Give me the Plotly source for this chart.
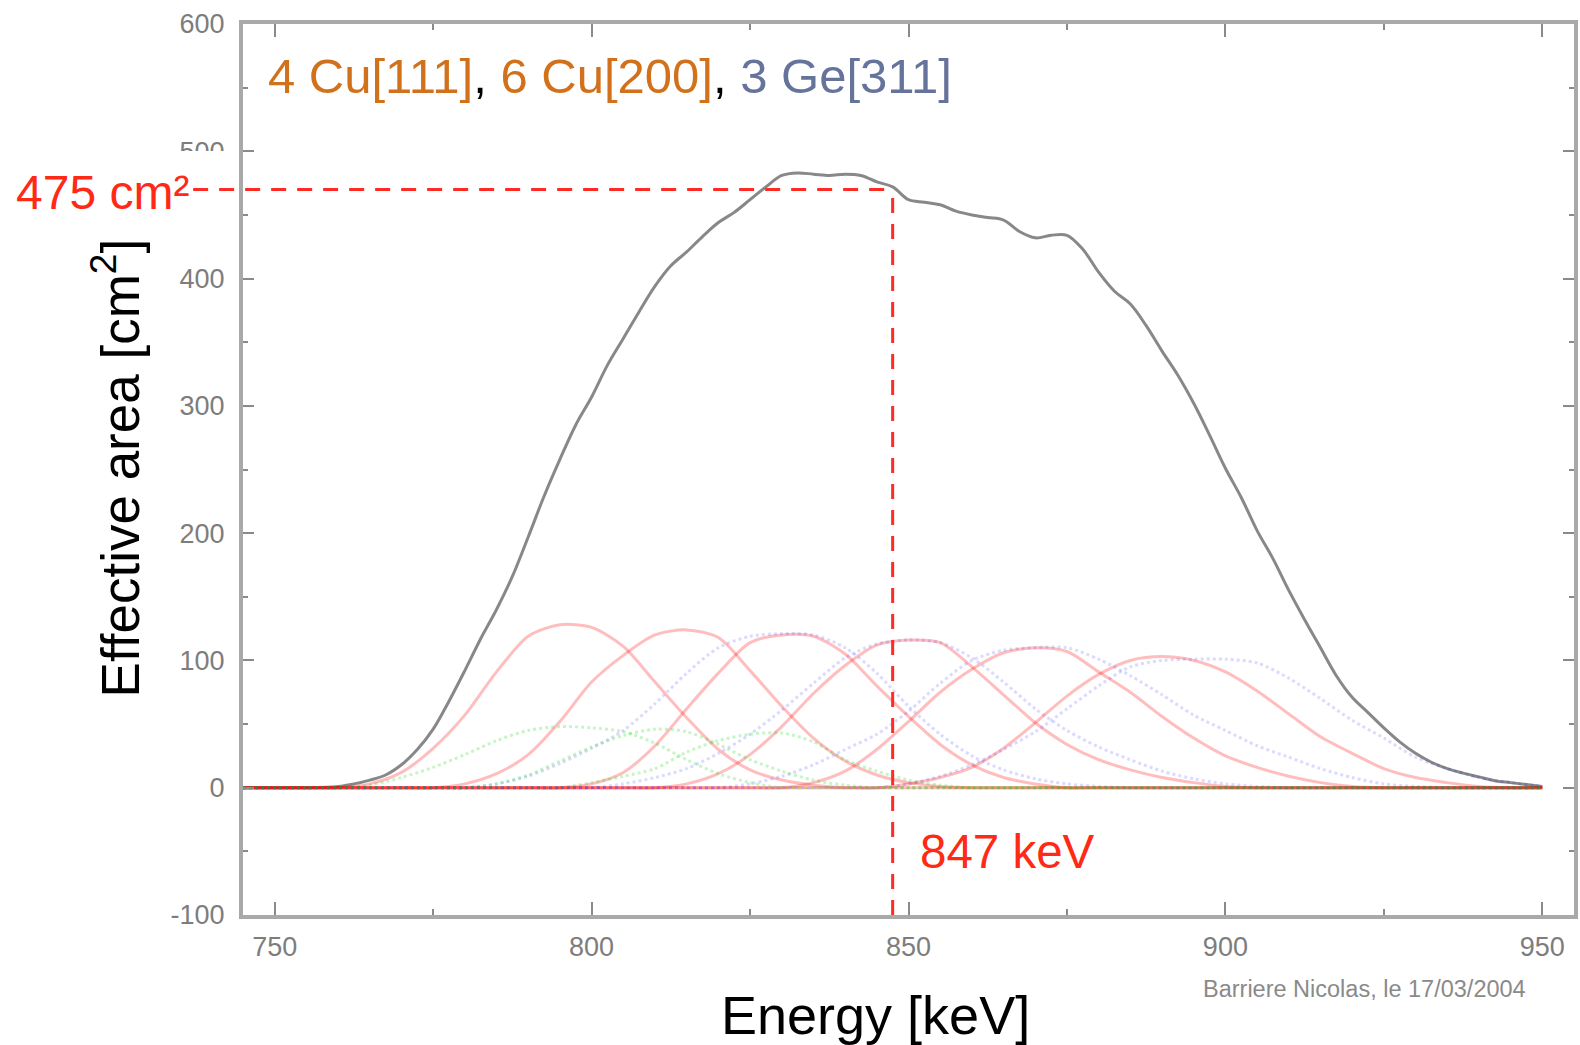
import plotly.graph_objects as go

# ---------------- data ----------------
ENERGY = [745, 750, 755, 760, 765, 770, 775, 780, 785, 790, 795, 800, 805, 810,
          815, 820, 825, 830, 835, 840, 845, 850, 855, 860, 865, 870, 875, 880,
          885, 890, 895, 900, 905, 910, 915, 920, 925, 930, 935, 940, 945, 950]

# six Cu rings drawn in red
RED_1 = [0, 0, 0, 0, 3, 12, 31, 57, 91, 119, 128, 126, 111, 83, 55, 30, 14, 6, 2, 0,
         0, 0, 0, 0, 0, 0, 0, 0, 0, 0, 0, 0, 0, 0, 0, 0, 0, 0, 0, 0, 0, 0]
RED_2 = [0, 0, 0, 0, 0, 0, 0, 3, 11, 26, 52, 83, 104, 120, 124, 118, 92, 64, 39, 21,
         10, 4, 1, 0, 0, 0, 0, 0, 0, 0, 0, 0, 0, 0, 0, 0, 0, 0, 0, 0, 0, 0]
RED_3 = [0, 0, 0, 0, 0, 0, 0, 0, 0, 0, 0, 3, 12, 33, 62, 90, 114, 120, 119, 105,
         80, 56, 34, 18, 8, 3, 0, 0, 0, 0, 0, 0, 0, 0, 0, 0, 0, 0, 0, 0, 0, 0]
RED_4 = [0, 0, 0, 0, 0, 0, 0, 0, 0, 0, 0, 0, 0, 0, 3, 11, 26, 48, 74, 96,
         112, 116, 114, 95, 73, 51, 34, 22, 14, 8, 4, 1, 0, 0, 0, 0, 0, 0, 0, 0, 0, 0]
RED_5 = [0, 0, 0, 0, 0, 0, 0, 0, 0, 0, 0, 0, 0, 0, 0, 0, 0, 0, 4, 13,
         30, 52, 75, 93, 106, 110, 107, 91, 75, 56, 39, 25, 16, 9, 4, 1, 0, 0, 0, 0, 0, 0]
RED_6 = [0, 0, 0, 0, 0, 0, 0, 0, 0, 0, 0, 0, 0, 0, 0, 0, 0, 0, 0, 0,
         0, 3, 8, 16, 31, 51, 72, 89, 100, 103, 100, 91, 76, 58, 40, 27, 15, 8, 4, 1, 0, 0]

# four rings drawn as blue dotted lines
BLUE_1 = [0, 0, 0, 0, 0, 0, 0, 0, 3, 9, 19, 31, 45, 66, 90, 110, 119, 121, 120, 110,
          90, 64, 42, 25, 14, 7, 3, 1, 0, 0, 0, 0, 0, 0, 0, 0, 0, 0, 0, 0, 0, 0]
BLUE_2 = [0, 0, 0, 0, 0, 0, 0, 0, 0, 0, 0, 0, 3, 8, 15, 27, 42, 61, 82, 102,
          113, 116, 114, 102, 83, 62, 45, 32, 22, 13, 7, 3, 1, 0, 0, 0, 0, 0, 0, 0, 0, 0]
BLUE_3 = [0, 0, 0, 0, 0, 0, 0, 0, 0, 0, 0, 0, 0, 0, 0, 0, 3, 9, 18, 30,
          42, 60, 82, 100, 108, 110, 110, 101, 88, 73, 57, 45, 33, 24, 15, 8, 3, 1, 0, 0, 0, 0]
BLUE_4 = [0, 0, 0, 0, 0, 0, 0, 0, 0, 0, 0, 0, 0, 0, 0, 0, 0, 0, 0, 0,
          0, 3, 9, 18, 30, 44, 62, 80, 95, 100, 101, 101, 98, 86, 70, 53, 39, 24, 15, 8, 4, 1]

# three rings drawn as green dotted lines
GREEN_1 = [0, 0, 0, 0, 2, 8, 16, 26, 37, 45, 48, 47, 44, 35, 22, 11, 4, 0, 0, 0,
           0, 0, 0, 0, 0, 0, 0, 0, 0, 0, 0, 0, 0, 0, 0, 0, 0, 0, 0, 0, 0, 0]
GREEN_2 = [0, 0, 0, 0, 0, 0, 0, 0, 3, 10, 21, 32, 41, 46, 44, 34, 22, 13, 6, 2,
           0, 0, 0, 0, 0, 0, 0, 0, 0, 0, 0, 0, 0, 0, 0, 0, 0, 0, 0, 0, 0, 0]
GREEN_3 = [0, 0, 0, 0, 0, 0, 0, 0, 0, 0, 0, 4, 9, 15, 28, 37, 42, 43, 36, 22,
           13, 6, 2, 0, 0, 0, 0, 0, 0, 0, 0, 0, 0, 0, 0, 0, 0, 0, 0, 0, 0, 0]

# total effective area (black curve), read every 2.5 keV
TOTAL_E = [745, 750, 755, 760, 762.5, 765, 767.5, 770, 772.5, 775, 777.5, 780, 782.5,
           785, 787.5, 790, 792.5, 795, 797.5, 800, 802.5, 805, 807.5, 810, 812.5, 815,
           817.5, 820, 822.5, 825, 827.5, 830, 832.5, 835, 837.5, 840, 842.5, 845, 847.5,
           850, 852.5, 855, 857.5, 860, 862.5, 865, 867.5, 870, 872.5, 875, 877.5, 880,
           882.5, 885, 887.5, 890, 892.5, 895, 897.5, 900, 902.5, 905, 907.5, 910, 912.5,
           915, 917.5, 920, 922.5, 925, 927.5, 930, 932.5, 935, 937.5, 940, 942.5, 945,
           947.5, 950]
TOTAL_A = [0, 0, 0, 1, 3, 6, 10, 18, 30, 46, 68, 92, 117,
           140, 166, 197, 229, 258, 285, 307, 332, 353, 374, 394, 410, 421,
           433, 444, 452, 462, 472, 481, 483, 482, 481, 482, 481, 476, 472,
           462, 460, 458, 453, 450, 448, 446, 437, 432, 434, 434, 423, 405,
           390, 380, 363, 343, 324, 302, 277, 251, 228, 202, 180, 155, 132,
           110, 88, 71, 59, 47, 36, 27, 20, 15, 11.5, 8.5, 5.5, 4,
           2.5, 1]

X_RANGE = [745, 955]
Y_RANGE = [-100, 600]
X_TICKS = [750, 800, 850, 900, 950]
Y_TICKS = [-100, 0, 100, 200, 300, 400, 500, 600]
Y_TICK_TEXT = ["-100", "0", "100", "200", "300", "400", "500", "600"]

MARK_E = 847.5      # vertical marker
MARK_A = 470        # horizontal marker
MARK_E_LABEL = "847 keV"
MARK_A_LABEL = "475 cm²"

# ---------------- figure ----------------
W, H = 1580, 1045
L, R, T, B = 243, 2, 24, 130
PW, PH = W - L - R, H - T - B

FONT = "Liberation Sans, Arial, Helvetica, sans-serif"
RED_TXT = "#ff2a16"

fig = go.Figure()

fig.add_trace(go.Scatter(x=TOTAL_E, y=TOTAL_A, mode="lines", name="total",
                         line=dict(color="#888888", width=3, shape="spline", smoothing=1.0)))

for ys in [RED_1, RED_2, RED_3, RED_4, RED_5, RED_6]:
    fig.add_trace(go.Scatter(x=ENERGY, y=ys, mode="lines",
                             line=dict(color="rgba(255,0,0,0.26)", width=3,
                                       shape="spline", smoothing=0.8)))
for ys in [BLUE_1, BLUE_2, BLUE_3, BLUE_4]:
    fig.add_trace(go.Scatter(x=ENERGY, y=ys, mode="lines",
                             line=dict(color="rgba(40,40,255,0.17)", width=3, dash="dot",
                                       shape="spline", smoothing=0.8)))
for ys in [GREEN_1, GREEN_2, GREEN_3]:
    fig.add_trace(go.Scatter(x=ENERGY, y=ys, mode="lines",
                             line=dict(color="rgba(0,210,0,0.22)", width=3, dash="dot",
                                       shape="spline", smoothing=0.8)))


def px_x(px):
    return (px - L) / PW


def px_y(py):
    return (H - B - py) / PH


axis_common = dict(
    showgrid=False, zeroline=False, showline=True, linecolor="#a9a9a9", linewidth=4,
    mirror="allticks", ticks="inside", tickwidth=2, tickcolor="#8a8a8a",
    tickfont=dict(family=FONT, size=27, color="#7d7d7d"),
)

fig.update_xaxes(range=X_RANGE, tickvals=X_TICKS, ticklabelstandoff=5, ticklen=13,
                 minor=dict(dtick=25, ticks="inside", ticklen=6, tickwidth=2, tickcolor="#8a8a8a"),
                 **axis_common)
fig.update_yaxes(range=Y_RANGE, tickvals=Y_TICKS, ticktext=Y_TICK_TEXT, ticklabelstandoff=9,
                 ticklen=11,
                 minor=dict(dtick=50, ticks="inside", ticklen=5, tickwidth=2, tickcolor="#8a8a8a"),
                 **axis_common)

dash = "15px,11px"
x_frac = (MARK_E - X_RANGE[0]) / (X_RANGE[1] - X_RANGE[0])
shapes = [
    dict(type="line", xref="paper", yref="y", x0=px_x(193), x1=x_frac, y0=MARK_A, y1=MARK_A,
         line=dict(color="#ff2b24", width=3, dash=dash), layer="above"),
    dict(type="line", xref="x", yref="y", x0=MARK_E, x1=MARK_E, y0=Y_RANGE[0], y1=MARK_A,
         line=dict(color="#ff2b24", width=3, dash=dash), layer="above"),
    # white patch that hides the lower half of the "500" tick label, as in the source
    dict(type="rect", xref="paper", yref="paper", x0=px_x(166), x1=px_x(236),
         y0=px_y(166), y1=px_y(151), fillcolor="white", line=dict(width=0), layer="above"),
]

ORANGE = "#d2711b"
SLATE = "#66739b"
title_txt = (f'<span style="color:{ORANGE}">4 Cu[111]</span>'
             f'<span style="color:#000000">, </span>'
             f'<span style="color:{ORANGE}">6 Cu[200]</span>'
             f'<span style="color:#000000">, </span>'
             f'<span style="color:{SLATE}">3 Ge[311]</span>')

annotations = [
    dict(text=title_txt, xref="paper", yref="paper", x=px_x(266), y=px_y(76),
         xanchor="left", yanchor="middle", showarrow=False,
         font=dict(family=FONT, size=49)),
    dict(text=MARK_A_LABEL, xref="paper", yref="paper", x=px_x(13), y=px_y(192),
         xanchor="left", yanchor="middle", showarrow=False,
         font=dict(family=FONT, size=48, color=RED_TXT)),
    dict(text=MARK_E_LABEL, xref="paper", yref="paper", x=px_x(920), y=px_y(851),
         xanchor="left", yanchor="middle", showarrow=False,
         font=dict(family=FONT, size=47.5, color=RED_TXT)),
    dict(text="Effective area [cm<sup>2</sup>]", xref="paper", yref="paper",
         x=px_x(116), y=px_y(468), textangle=-90, xanchor="center", yanchor="middle",
         showarrow=False, font=dict(family=FONT, size=53, color="#000000")),
    dict(text="Energy [keV]", xref="paper", yref="paper", x=px_x(877), y=px_y(1015),
         xanchor="center", yanchor="middle", showarrow=False,
         font=dict(family=FONT, size=54, color="#000000")),
    dict(text="Barriere Nicolas, le 17/03/2004", xref="paper", yref="paper",
         x=px_x(1204), y=px_y(989), xanchor="left", yanchor="middle", showarrow=False,
         font=dict(family=FONT, size=23.5, color="#8a8a8a")),
]

fig.update_layout(
    width=W, height=H, autosize=False,
    margin=dict(l=L, r=R, t=T, b=B),
    paper_bgcolor="white", plot_bgcolor="white",
    showlegend=False,
    shapes=shapes, annotations=annotations,
    font=dict(family=FONT),
)

fig.write_html("out.html", include_plotlyjs=True, config={"displayModeBar": False})
